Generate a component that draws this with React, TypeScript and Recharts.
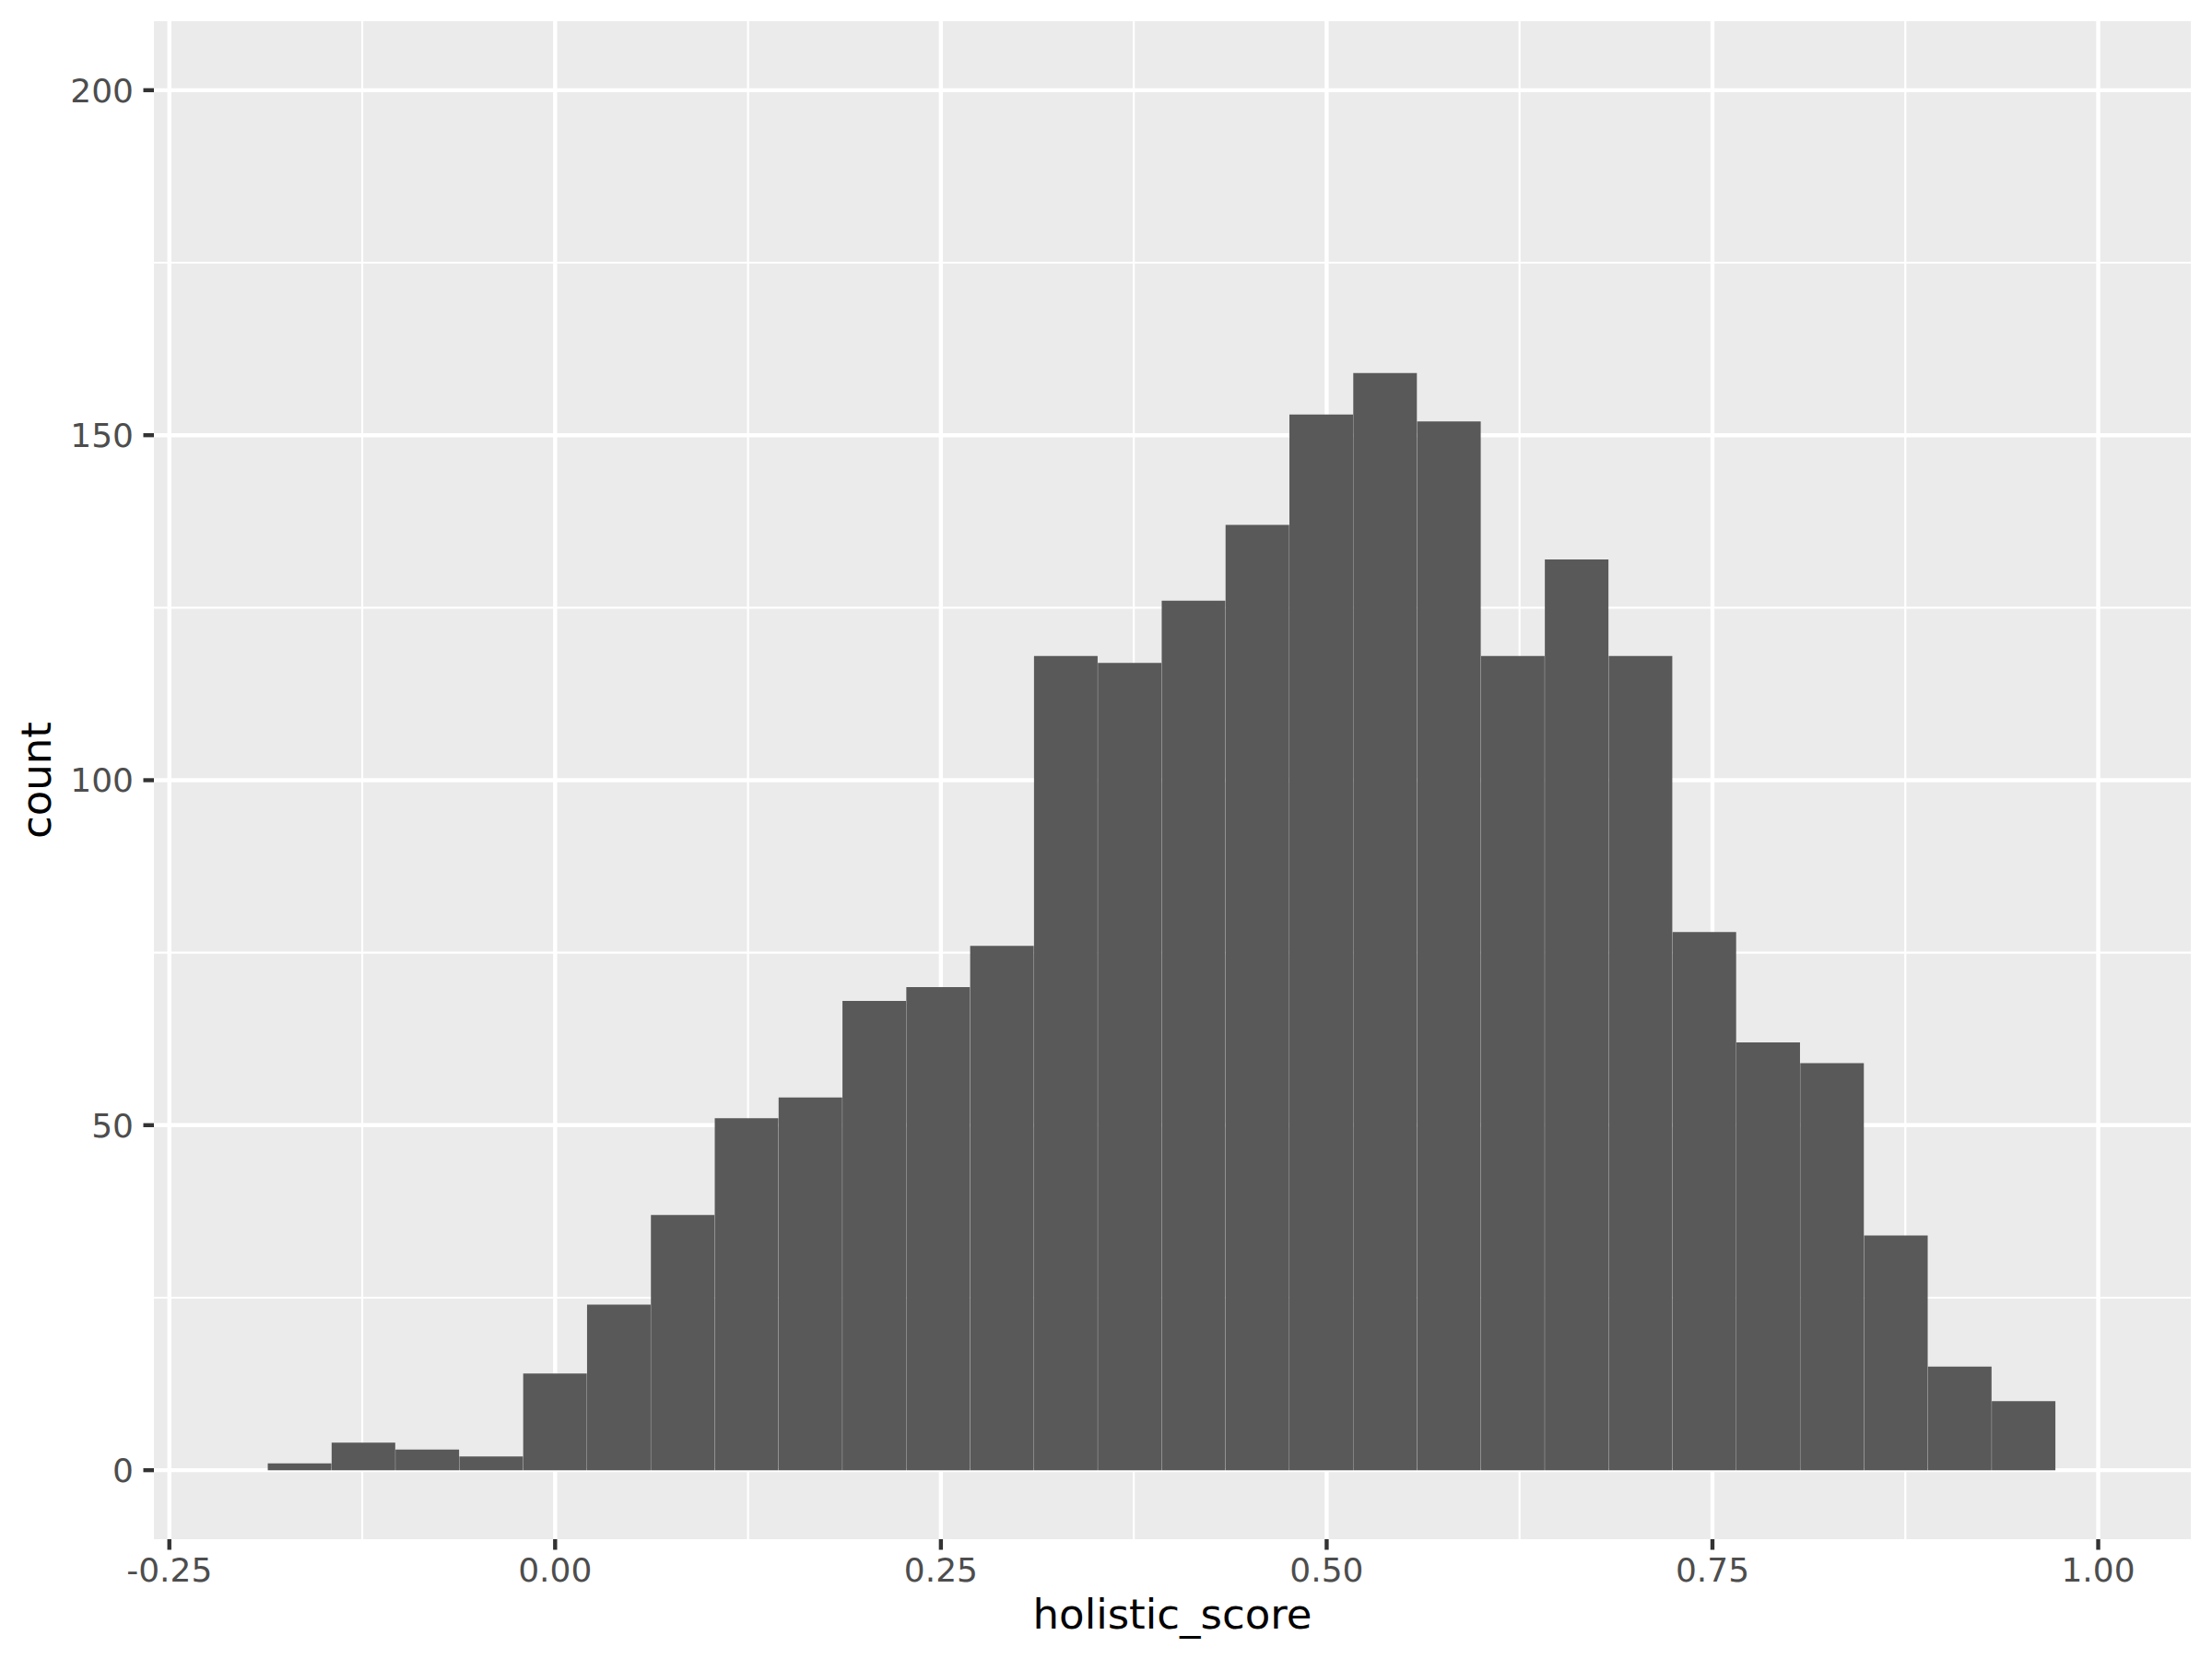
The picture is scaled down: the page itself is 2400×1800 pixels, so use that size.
import { ComposedChart, Bar, XAxis, YAxis, CartesianGrid, Label } from "recharts";

// histogram of holistic_score, 28 non-empty bins (centres of each bin)
const binCenters = [
  -0.16552, -0.12414, -0.08276, -0.04138, 0.0, 0.04138, 0.08276, 0.12414, 0.16552, 0.2069,
  0.24828, 0.28966, 0.33103, 0.37241, 0.41379, 0.45517, 0.49655, 0.53793, 0.57931, 0.62069,
  0.66207, 0.70345, 0.74483, 0.78621, 0.82759, 0.86897, 0.91034, 0.95172,
];
const counts = [
  1, 4, 3, 2, 14, 24, 37, 51, 54, 68,
  70, 76, 118, 117, 126, 137, 153, 159, 152, 118,
  132, 118, 78, 62, 59, 34, 15, 10,
];

const xTicks = [-0.25, 0, 0.25, 0.5, 0.75, 1];
const xMinor = [-0.125, 0.125, 0.375, 0.625, 0.875];
const yTicks = [0, 50, 100, 150, 200];
const yMinor = [25, 75, 125, 175];

const data = binCenters.map((x, i) => ({ x, count: counts[i] }));

const FONT = "'DejaVu Sans', sans-serif";
const tickStyle = { fill: "#4D4D4D", fontSize: 36, fontFamily: FONT };

if (typeof document !== "undefined") document.body.style.margin = "0";

export default function App() {
  return (
    <div style={{ width: 2400, height: 1800, background: "#fff" }}>
      <ComposedChart
        width={2400}
        height={1800}
        data={data}
        margin={{ top: 23, right: 23, bottom: 0, left: 0 }}
        barCategoryGap={0}
        barGap={0}
      >
        <CartesianGrid
          fill="#EBEBEB"
          stroke="#FFFFFF"
          strokeWidth={2.2}
          verticalValues={xMinor}
          horizontalValues={yMinor}
        />
        <CartesianGrid
          stroke="#FFFFFF"
          strokeWidth={4.4}
          verticalValues={xTicks}
          horizontalValues={yTicks}
        />
        <XAxis
          type="number"
          dataKey="x"
          domain={[-0.26, 1.06]}
          ticks={xTicks}
          tickFormatter={(v: number) => v.toFixed(2)}
          allowDataOverflow
          height={130}
          axisLine={false}
          tickSize={11.5}
          tickMargin={9.4}
          tickLine={{ stroke: "#333333", strokeWidth: 4.4 }}
          tick={tickStyle}
        >
          <Label
            content={({ viewBox }: any) => (
              <text
                x={viewBox.x + viewBox.width / 2}
                y={1767}
                textAnchor="middle"
                fontSize={45}
                fontFamily={FONT}
                fill="#000"
              >
                holistic_score
              </text>
            )}
          />
        </XAxis>
        <YAxis
          type="number"
          domain={[-10, 210]}
          ticks={yTicks}
          allowDataOverflow
          width={167}
          axisLine={false}
          tickSize={11.5}
          tickMargin={10.5}
          tickLine={{ stroke: "#333333", strokeWidth: 4.4 }}
          tick={tickStyle}
        >
          <Label
            content={({ viewBox }: any) => {
              const cy = viewBox.y + viewBox.height / 2;
              return (
                <text
                  x={55}
                  y={cy}
                  transform={`rotate(-90 55 ${cy})`}
                  textAnchor="middle"
                  fontSize={45}
                  fontFamily={FONT}
                  fill="#000"
                >
                  count
                </text>
              );
            }}
          />
        </YAxis>
        <Bar dataKey="count" fill="#595959" isAnimationActive={false} />
      </ComposedChart>
    </div>
  );
}
